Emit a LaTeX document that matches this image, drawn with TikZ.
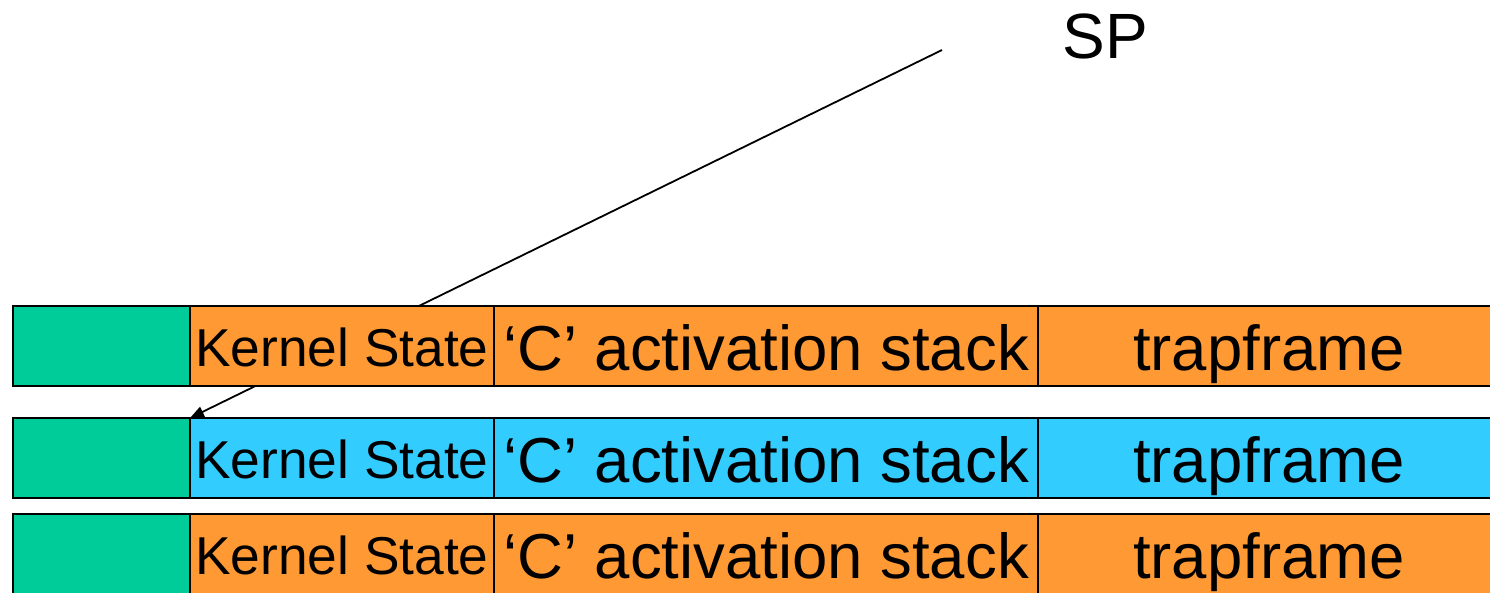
\documentclass[tikz,border=0pt]{standalone}
\usepackage{fontspec}
\setmainfont{Liberation Sans}
\usetikzlibrary{arrows.meta}
\usetikzlibrary{backgrounds}

\definecolor{kgreen}{HTML}{00CC99}
\definecolor{korange}{HTML}{FF9933}
\definecolor{kblue}{HTML}{33CCFF}

\tikzset{
    cell/.style={draw, line width=1.8pt, inner sep=0pt, outer sep=0pt,
        minimum height=80pt, text height=60pt, text depth=12pt,
        font=\fontsize{63.5}{70}\selectfont},
    pad/.style={cell, fill=kgreen, minimum width=177pt},
    kstate/.style={cell, fill=korange, minimum width=304pt,
        text height=52pt, text depth=12pt, font=\fontsize{53.3}{60}\selectfont},
    cstack/.style={cell, fill=korange, minimum width=544pt},
    tframe/.style={cell, fill=korange, minimum width=462pt},
    sparrow/.style={-{Triangle[length=14pt,width=11pt]}, line width=1.8pt},
}

\begin{document}
\begin{tikzpicture}[x=1pt, y=1pt]
    \useasboundingbox (0,0) rectangle (1490,-592);
    \node (sp) [anchor=base west, font=\fontsize{64}{70}\selectfont] at (1059,-58) {SP};
    \coordinate (sptail) at (942,-50);
    \matrix (stacks) [matrix anchor=north west, inner sep=0pt, outer sep=0pt,
            row sep=0pt, column sep=-1.8pt] at (12.1,-305.1) {
        \node (pad1) [pad] {}; & \node (ks1) [kstate] {Kernel State}; &
            \node (cs1) [cstack] {‘C’ activation stack}; & \node (tf1) [tframe] {trapframe}; \\[30.2pt]
        \node (pad2) [pad] {}; & \node (ks2) [kstate, fill=kblue] {Kernel State}; &
            \node (cs2) [cstack, fill=kblue] {‘C’ activation stack}; & \node (tf2) [tframe, fill=kblue] {trapframe}; \\[14.2pt]
        \node (pad3) [pad] {}; & \node (ks3) [kstate] {Kernel State}; &
            \node (cs3) [cstack] {‘C’ activation stack}; & \node (tf3) [tframe] {trapframe}; \\
    };
    \begin{scope}[on background layer]
        \draw [sparrow] (sptail) -- (ks2.north west);
    \end{scope}
\end{tikzpicture}
\end{document}
